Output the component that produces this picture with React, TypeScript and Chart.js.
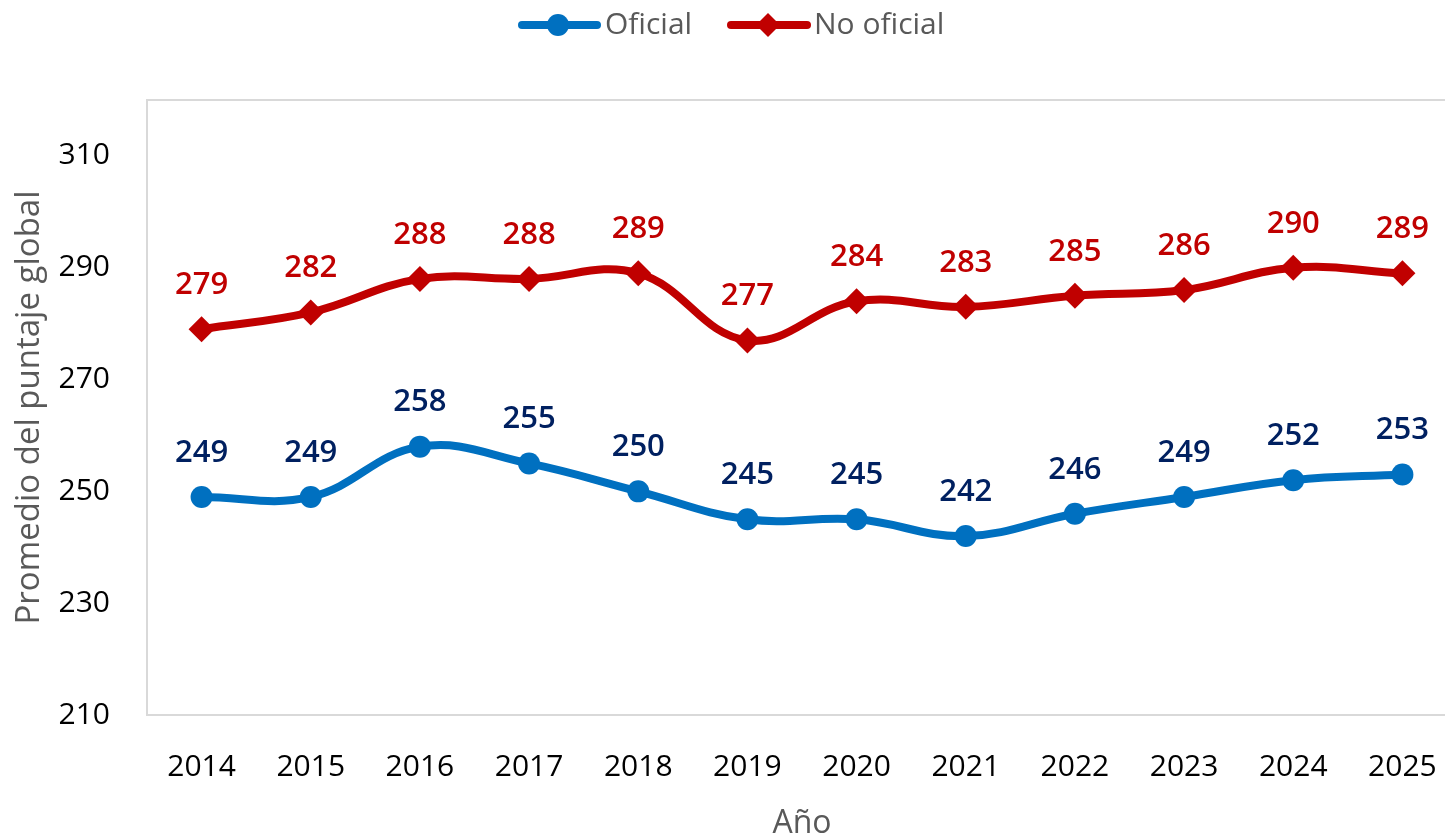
import React, { useEffect, useRef } from "react";
import { Chart, registerables } from "chart.js";

Chart.register(...registerables);

const years = ["2014", "2015", "2016", "2017", "2018", "2019", "2020", "2021", "2022", "2023", "2024", "2025"];
const oficial = [249, 249, 258, 255, 250, 245, 245, 242, 246, 249, 252, 253];
const noOficial = [279, 282, 288, 288, 289, 277, 284, 283, 285, 286, 290, 289];
const yTicks = [210, 230, 250, 270, 290, 310];

const BLUE = "#0070C0";
const RED = "#C00000";
const NAVY = "#002060";
const GRAY = "#595959";
const FONT = "'Open Sans', Lato, sans-serif";

const boxPlugin = {
  id: "boxPlugin",
  beforeDatasetsDraw(chart: any) {
    const { ctx, chartArea } = chart;
    ctx.save();
    ctx.strokeStyle = "#D9D9D9";
    ctx.lineWidth = 2;
    ctx.strokeRect(chartArea.left, chartArea.top, chartArea.right - chartArea.left, chartArea.bottom - chartArea.top);
    ctx.restore();
  },
};

const labelsPlugin = {
  id: "labelsPlugin",
  afterDatasetsDraw(chart: any) {
    const { ctx } = chart;
    ctx.save();
    ctx.font = `600 31px ${FONT}`;
    ctx.textAlign = "center";
    ctx.textBaseline = "middle";
    chart.data.datasets.forEach((ds: any, i: number) => {
      const meta = chart.getDatasetMeta(i);
      ctx.fillStyle = i === 0 ? NAVY : RED;
      meta.data.forEach((pt: any, j: number) => {
        ctx.fillText(String(ds.data[j]), pt.x, pt.y - 44);
      });
    });
    ctx.restore();
  },
};

const legendPlugin = {
  id: "legendPlugin",
  afterDraw(chart: any) {
    const { ctx } = chart;
    const y = 25;
    ctx.save();
    ctx.lineCap = "round";
    ctx.lineWidth = 8;
    // Oficial
    ctx.strokeStyle = BLUE;
    ctx.beginPath();
    ctx.moveTo(522, y);
    ctx.lineTo(597, y);
    ctx.stroke();
    ctx.fillStyle = BLUE;
    ctx.beginPath();
    ctx.arc(558, y, 11, 0, Math.PI * 2);
    ctx.fill();
    // No oficial
    ctx.strokeStyle = RED;
    ctx.beginPath();
    ctx.moveTo(731, y);
    ctx.lineTo(807, y);
    ctx.stroke();
    ctx.fillStyle = RED;
    ctx.beginPath();
    ctx.moveTo(768, y - 12);
    ctx.lineTo(780, y);
    ctx.lineTo(768, y + 12);
    ctx.lineTo(756, y);
    ctx.closePath();
    ctx.fill();
    ctx.fillStyle = GRAY;
    ctx.font = `30px ${FONT}`;
    ctx.textAlign = "left";
    ctx.textBaseline = "middle";
    ctx.fillText("Oficial", 605, y);
    ctx.fillText("No oficial", 814, y);
    ctx.restore();
  },
};

export default function App() {
  const ref = useRef<HTMLCanvasElement>(null);
  useEffect(() => {
    document.body.style.margin = "0";
    document.body.style.overflow = "hidden";
    const chart = new Chart(ref.current as HTMLCanvasElement, {
      type: "line",
      data: {
        labels: years,
        datasets: [
          {
            label: "Oficial",
            data: oficial,
            borderColor: BLUE,
            backgroundColor: BLUE,
            borderWidth: 8,
            pointStyle: "circle",
            pointRadius: 11,
            pointBorderWidth: 0,
            tension: 0.4,
          },
          {
            label: "No oficial",
            data: noOficial,
            borderColor: RED,
            backgroundColor: RED,
            borderWidth: 8,
            pointStyle: "rectRot",
            pointRadius: 13,
            pointBorderWidth: 0,
            tension: 0.4,
          },
        ],
      },
      options: {
        responsive: false,
        animation: false,
        layout: { padding: { top: 100, right: 8, left: 0, bottom: 0 } },
        plugins: { legend: { display: false }, tooltip: { enabled: false } },
        scales: {
          x: {
            offset: true,
            grid: { display: false },
            border: { display: false },
            ticks: { color: "#000", font: { family: FONT, size: 30 }, padding: 26 },
            title: {
              display: true,
              text: "Año",
              color: GRAY,
              font: { family: FONT, size: 32 },
              padding: { top: 10, bottom: -6 },
            },
            afterFit(scale: any) {
              scale.height = 122;
            },
          },
          y: {
            min: 210,
            max: 320,
            grid: { display: false },
            border: { display: false },
            ticks: { color: "#000", font: { family: FONT, size: 30 }, padding: 29 },
            afterBuildTicks(scale: any) {
              scale.ticks = yTicks.map((v) => ({ value: v }));
            },
            title: {
              display: true,
              text: "Promedio del puntaje global",
              color: GRAY,
              font: { family: FONT, size: 33 },
              padding: { top: 10, bottom: 0 },
            },
            afterFit(scale: any) {
              scale.width = 147;
            },
          },
        },
      },
      plugins: [boxPlugin, labelsPlugin, legendPlugin],
    });
    return () => chart.destroy();
  }, []);
  return (
    <div style={{ width: 1445, height: 837, overflow: "hidden", background: "#fff" }}>
      <canvas ref={ref} width={1470} height={837} style={{ display: "block" }} />
    </div>
  );
}
